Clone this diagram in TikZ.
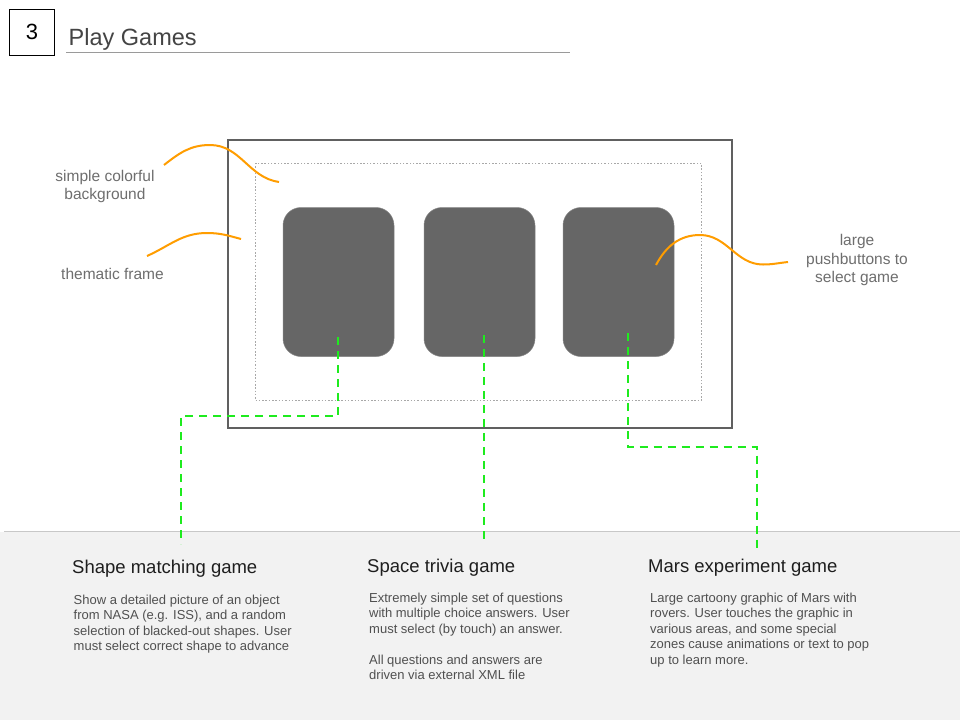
\documentclass[tikz,border=0pt]{standalone}
\usepackage{fontspec}
\setmainfont{Liberation Sans}
\definecolor{labelgray}{HTML}{6E6E6E}
\definecolor{titlec}{HTML}{444444}
\definecolor{headc}{HTML}{1E1E1E}
\definecolor{descc}{HTML}{505050}
\definecolor{btngray}{HTML}{666666}
\definecolor{framec}{HTML}{606060}
\definecolor{dotc}{HTML}{A8A8A8}
\definecolor{orangec}{HTML}{FF9D00}
\definecolor{limec}{HTML}{1EEB1E}
\definecolor{bandc}{HTML}{F2F2F2}
\definecolor{bandline}{HTML}{C8C8C8}
\definecolor{rulec}{HTML}{9A9A9A}
\begin{document}
\begin{tikzpicture}[x=1pt,y=-1pt,
  lbl/.style={text=labelgray, font=\fontsize{15.5}{18.5}\selectfont, align=center, inner sep=0pt},
  head/.style={text=headc, font=\fontsize{18.5}{22}\selectfont, anchor=west, inner sep=0pt},
  desc/.style={text=descc, font=\fontsize{13}{15.5}\selectfont, anchor=north west, align=left, inner sep=0pt},
  btn/.style={fill=btngray, draw=btngray!80!white, line width=0.5pt, rounded corners=18pt, minimum width=111pt, minimum height=149pt, inner sep=0pt},
  callout/.style={draw=orangec, line width=2pt},
  link/.style={draw=limec, line width=2pt, dash pattern=on 8pt off 6pt},
]
\useasboundingbox (0,0) rectangle (960,720);
\fill[white] (0,0) rectangle (960,720);

% bottom band
\fill[bandc] (0,531.5) rectangle (960,720);
\draw[bandline, line width=1.2pt] (4,531.5) -- (960,531.5);

% header
\node[draw=black, line width=0.9pt, minimum width=45pt, minimum height=46pt, inner sep=0pt,
      font=\fontsize{22}{26}\selectfont] (num) at (32,32) {3};
\node[anchor=base west, inner sep=0pt, text=titlec, font=\fontsize{23.5}{28}\selectfont] (title) at (68.5,45.7) {Play Games};
\draw[rulec, line width=1.5pt] (66,52.7) -- (570,52.7);

% screen frame
\node[draw=framec, line width=1.4pt, minimum width=504pt, minimum height=288pt, inner sep=0pt] (frame) at (480,284) {};
\node[draw=dotc, line width=1.5pt, dash pattern=on 1.5pt off 1.8pt, minimum width=446pt, minimum height=237pt, inner sep=0pt] (bg) at (478.5,281.8) {};

% buttons
\node[btn] (b1) at (338.5,282) {};
\node[btn] (b2) at (479.5,282) {};
\node[btn] (b3) at (618.5,282) {};

% labels
\node[lbl] (lbg) at (105,186.5) {simple colorful\\background};
\node[lbl] (lfr) at (112.5,274) {thematic frame};
\node[lbl] (lbt) at (857,260) {large\\pushbuttons to\\select game};

% orange callouts
\coordinate (o1a) at (164,165);
\coordinate (o1b) at (279,182);
\coordinate (o2a) at (147,256);
\coordinate (o2b) at (241,239);
\coordinate (o3a) at (656,265);
\coordinate (o3b) at (788,262);
\draw[callout] (o1a) to[out=38,in=180] (210,145) to[out=0,in=172] (o1b);
\draw[callout] (o2a) to[out=24,in=180] (207,233) to[out=0,in=165] (o2b);
\draw[callout] (o3a) to[out=62,in=180] (700,235) to[out=0,in=180] (763,264.5) to[out=0,in=186] (o3b);

% headings
\node[head] (h1) at (72,569) {Shape matching game};
\node[head] (h2) at (367,568) {Space trivia game};
\node[head] (h3) at (648,568) {Mars experiment game};

% descriptions
\node[desc] (d1) at (73.5,594.5) {Show a detailed picture of an object\\from NASA (e.g. ISS), and a random\\selection of blacked-out shapes. User\\must select correct shape to advance};
\node[desc] (d2) at (369,592.5) {Extremely simple set of questions\\with multiple choice answers. User\\must select (by touch) an answer.\\[15.5pt]All questions and answers are\\driven via external XML file};
\node[desc] (d3) at (650,592.5) {Large cartoony graphic of Mars with\\rovers. User touches the graphic in\\various areas, and some special\\zones cause animations or text to pop\\up to learn more.};

% green links
\coordinate (g1a) at (338,337);
\coordinate (g1b) at (181,544);
\coordinate (g2a) at (483.5,335);
\coordinate (g2b) at (483.5,540);
\coordinate (g3a) at (627.5,333);
\coordinate (g3b) at (757,548);
\draw[link] (g1a) -- (338,416) -| (g1b);
\draw[link] (g2a) -- (g2b);
\draw[link] (g3a) -- (627.5,447) -| (g3b);
\end{tikzpicture}
\end{document}
